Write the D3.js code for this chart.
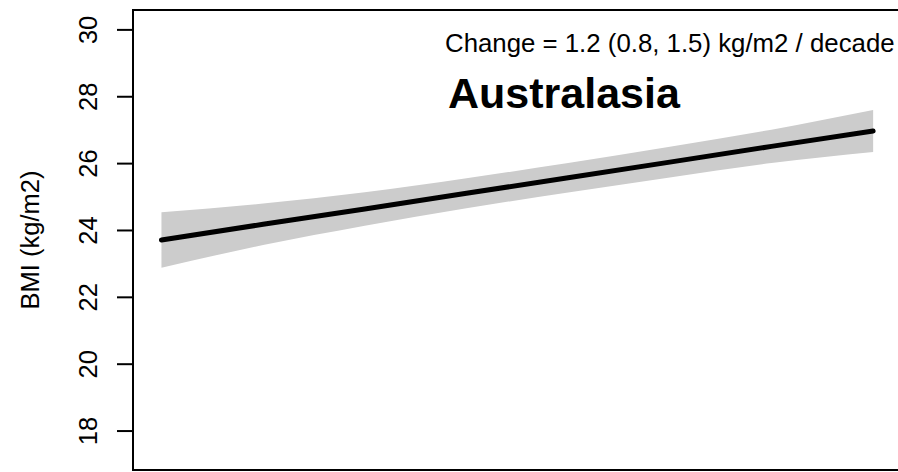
<!DOCTYPE html>
<html>
<head>
<meta charset="utf-8">
<script src="https://cdn.jsdelivr.net/npm/d3@7"></script>
<style>
  html, body { margin: 0; padding: 0; background: #fff; overflow: hidden; }
  svg { display: block; font-family: "Liberation Sans", Arial, Helvetica, sans-serif; }
</style>
</head>
<body>
<svg id="chart" width="898" height="472"></svg>
<script>
// ---- data ----
const years = [1980, 1984, 1988, 1992, 1996, 2000, 2004, 2008];
const fitBMI = [23.70, 24.17, 24.63, 25.10, 25.56, 26.03, 26.50, 26.96];
const lowerBMI = [22.87, 23.55, 24.13, 24.65, 25.12, 25.57, 26.00, 26.33];
const upperBMI = [24.53, 24.79, 25.13, 25.55, 26.00, 26.49, 27.00, 27.59];
const yTicks = [18, 20, 22, 24, 26, 28, 30];
const regionName = "Australasia";
const changeLabel = "Change = 1.2 (0.8, 1.5) kg/m2 / decade";
const yLabel = "BMI (kg/m2)";

// ---- layout ----
const svg = d3.select("#chart");
const mLeft = 133, mRight = 901.6, mTop = 10, mBottom = 470;

const x = d3.scaleLinear().domain([1978.88, 2009.12]).range([mLeft, mRight]);
const y = d3.scaleLinear().domain([16.82, 30.58]).range([mBottom, mTop]);

const rows = years.map((yr, i) => ({ yr, fit: fitBMI[i], lo: lowerBMI[i], hi: upperBMI[i] }));

// band
svg.append("path")
  .datum(rows)
  .attr("fill", "#cccccc")
  .attr("d", d3.area()
    .x(d => x(d.yr))
    .y0(d => y(d.lo))
    .y1(d => y(d.hi))
    .curve(d3.curveMonotoneX));

// fit line
svg.append("path")
  .datum(rows)
  .attr("fill", "none")
  .attr("stroke", "#000")
  .attr("stroke-width", 5)
  .attr("stroke-linecap", "round")
  .attr("d", d3.line().x(d => x(d.yr)).y(d => y(d.fit)));

// box (right side lies outside the visible window)
svg.append("path")
  .attr("d", `M${mRight + 20},${mTop}H${mLeft}V${mBottom}H${mRight + 20}`)
  .attr("fill", "none").attr("stroke", "#000").attr("stroke-width", 2);

// y axis
const ax = svg.append("g")
  .attr("transform", `translate(${mLeft},0)`)
  .call(d3.axisLeft(y).tickValues(yTicks).tickSize(16).tickFormat(d3.format("d")));
ax.select(".domain").remove();
ax.selectAll(".tick line").attr("stroke", "#000").attr("stroke-width", 2);
ax.selectAll(".tick text")
  .attr("x", 0).attr("dy", 0)
  .attr("transform", "translate(-36.5,0) rotate(-90)")
  .attr("text-anchor", "middle")
  .attr("fill", "#000")
  .style("font-family", '"Liberation Sans", Arial, sans-serif')
  .style("font-size", "25.5px");

// y label
svg.append("text")
  .attr("transform", `translate(39,${(mTop + mBottom) / 2}) rotate(-90)`)
  .attr("text-anchor", "middle")
  .style("font-size", "25.5px")
  .text(yLabel);

// annotations
svg.append("text")
  .attr("x", 445).attr("y", 52)
  .style("font-size", "25.8px")
  .text(changeLabel);

svg.append("text")
  .attr("x", 448).attr("y", 108)
  .style("font-size", "43px")
  .style("font-weight", "bold")
  .text(regionName);
</script>
</body>
</html>
